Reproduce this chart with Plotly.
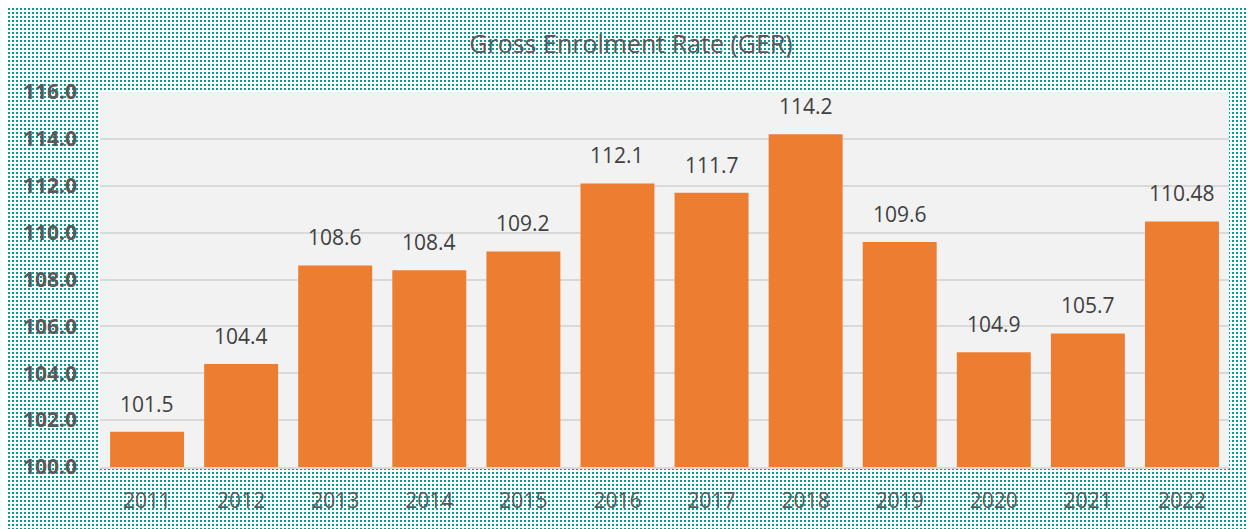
import base64
import plotly.graph_objects as go

years = ["2011", "2012", "2013", "2014", "2015", "2016", "2017", "2018", "2019", "2020", "2021", "2022"]
ger = [101.5, 104.4, 108.6, 108.4, 109.2, 112.1, 111.7, 114.2, 109.6, 104.9, 105.7, 110.48]
y_ticks = [100, 102, 104, 106, 108, 110, 112, 114, 116]

# the page body adds an 8px offset, so lay out in screen coords minus 8
OFF = 8
W, H = 1254, 529
ML, MT = 100 - OFF, 92 - OFF
PW, PH = 1129, 375
MR, MB = W - ML - PW, H - MT - PH

teal = "#009e8c"
svg = f'''<svg xmlns="http://www.w3.org/2000/svg" width="{W}" height="{H}" viewBox="0 0 {W} {H}" shape-rendering="crispEdges">
<defs><pattern id="p" x="0" y="0" width="8" height="8" patternUnits="userSpaceOnUse">
<rect x="0" y="0" width="2" height="2" fill="{teal}"/><rect x="4" y="4" width="2" height="2" fill="{teal}"/>
<rect x="4" y="0" width="2" height="2" fill="{teal}"/><rect x="0" y="4" width="2" height="2" fill="{teal}"/>
</pattern></defs>
<rect x="0" y="0" width="{W}" height="{H}" fill="#ffffff"/>
<rect x="0" y="0" width="{W}" height="{H}" fill="url(#p)"/>
</svg>'''
uri = "data:image/svg+xml;base64," + base64.b64encode(svg.encode()).decode()

fig = go.Figure()
fig.add_trace(go.Bar(x=years, y=ger, marker=dict(color="#ed7d31", line=dict(width=0)),
                     hoverinfo="x+y"))

for i, v in enumerate(ger):
    fig.add_annotation(x=i, y=v, xref="x", yref="y", text=str(v), showarrow=False,
                       yanchor="bottom", yshift=12,
                       font=dict(family="Open Sans", size=21, color="#404040"))

fig.update_layout(
    width=W, height=H,
    margin=dict(l=ML, r=MR, t=MT, b=MB, autoexpand=False),
    paper_bgcolor="#ffffff",
    plot_bgcolor="#f2f2f2",
    bargap=0.214,
    showlegend=False,
    title=dict(text="Gross Enrolment Rate (GER)", x=(631 - OFF) / W, xanchor="center",
               y=1 - (44 - OFF) / H, yanchor="middle",
               font=dict(family="Open Sans", size=25, color="#595959")),
    images=[dict(source=uri, xref="paper", yref="paper",
                 x=-ML / PW, y=1 + MT / PH, sizex=W / PW, sizey=H / PH,
                 xanchor="left", yanchor="top", sizing="stretch", layer="below")],
    shapes=[dict(type="rect", xref="x domain", yref="y domain", x0=0, x1=1, y0=0, y1=1,
                 fillcolor="#f2f2f2", line=dict(width=0), layer="below")],
)
fig.update_yaxes(range=[100, 116], tickvals=y_ticks, tickformat=".1f",
                 showgrid=True, gridcolor="#d9d9d9", gridwidth=1.5, zeroline=False,
                 showline=False, ticks="", ticklabelstandoff=22,
                 tickfont=dict(family="Open Sans", size=21, color="#595959", weight="bold"))
fig.update_xaxes(type="category", range=[-0.5, len(years) - 0.5],
                 showline=True, linecolor="#d9d9d9", linewidth=2,
                 ticks="", ticklabelstandoff=14,
                 tickfont=dict(family="Open Sans", size=21, color="#595959"))

fig.write_html("out.html")
